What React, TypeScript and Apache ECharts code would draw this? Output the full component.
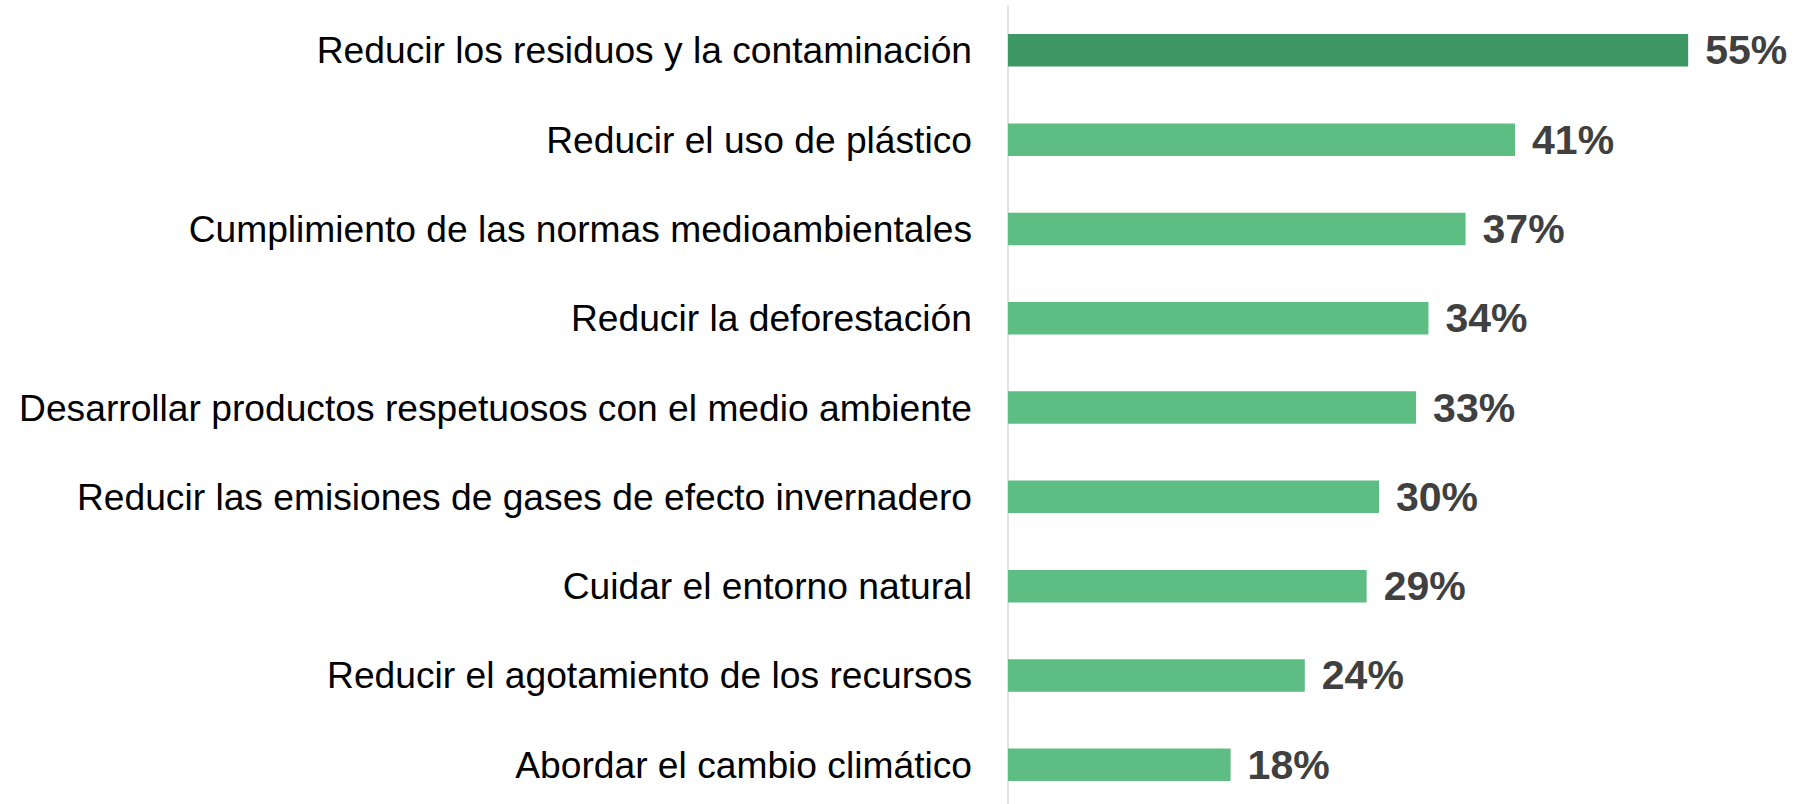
import React, { useEffect, useRef } from "react";
import * as echarts from "echarts";

const categories = [
  "Reducir los residuos y la contaminación",
  "Reducir el uso de plástico",
  "Cumplimiento de las normas medioambientales",
  "Reducir la deforestación",
  "Desarrollar productos respetuosos con el medio ambiente",
  "Reducir las emisiones de gases de efecto invernadero",
  "Cuidar el entorno natural",
  "Reducir el agotamiento de los recursos",
  "Abordar el cambio climático",
];
const values = [55, 41, 37, 34, 33, 30, 29, 24, 18];
const highlightColor = "#3E9863";
const baseColor = "#5EBD83";

export default function App() {
  const ref = useRef<HTMLDivElement>(null);
  useEffect(() => {
    if (!ref.current) return;
    const chart = echarts.init(ref.current, undefined, { renderer: "svg" });
    chart.setOption({
      animation: false,
      backgroundColor: "#ffffff",
      grid: { left: 1008, top: 5.7, width: 742, height: 803.7, containLabel: false },
      xAxis: {
        type: "value",
        min: 0,
        max: 60,
        show: false,
        splitLine: { show: false },
      },
      yAxis: {
        type: "category",
        data: categories,
        inverse: true,
        axisLine: { show: true, lineStyle: { color: "#d9d9d9", width: 1.5 } },
        axisTick: { show: false },
        axisLabel: {
          margin: 36,
          fontSize: 37.2,
          color: "#000000",
          fontFamily: "'Liberation Sans', Arial, sans-serif",
        },
      },
      series: [
        {
          type: "bar",
          data: values.map((v, i) => ({
            value: v,
            itemStyle: { color: i === 0 ? highlightColor : baseColor },
          })),
          barWidth: "36.4%",
          label: {
            show: true,
            position: "right",
            distance: 17,
            formatter: "{c}%",
            fontSize: 41,
            fontWeight: "bold",
            color: "#404040",
            fontFamily: "'Liberation Sans', Arial, sans-serif",
          },
        },
      ],
    });
    return () => chart.dispose();
  }, []);
  return (
    <div
      ref={ref}
      style={{ position: "fixed", left: 0, top: 0, width: 1814, height: 812 }}
    />
  );
}
